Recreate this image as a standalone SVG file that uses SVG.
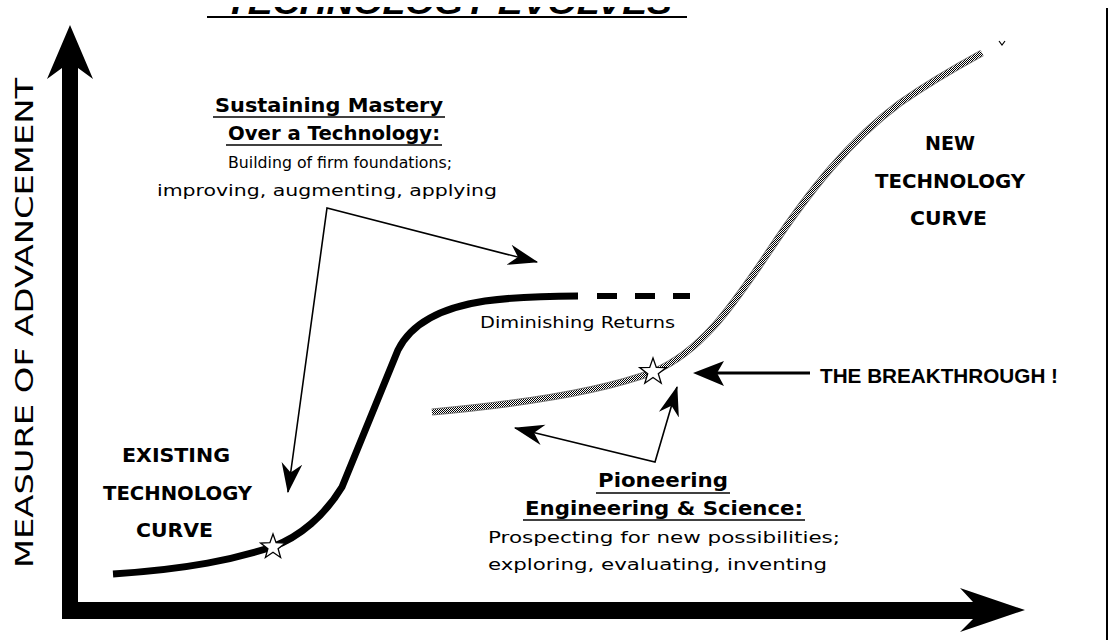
<svg xmlns="http://www.w3.org/2000/svg" width="1114" height="640" viewBox="0 0 1114 640">
<defs>
<style>
.bold{font-family:"Liberation Sans",Arial,sans-serif;font-weight:bold;fill:#000}
.reg{font-family:"DejaVu Sans","Liberation Sans",sans-serif;fill:#000}
.hd{font-family:"DejaVu Sans","Liberation Sans",sans-serif;font-weight:bold;fill:#000}
.lbl{font-family:"DejaVu Sans","Liberation Sans",sans-serif;fill:#000}
.cap{font-family:"DejaVu Sans Condensed","Liberation Sans",sans-serif;font-weight:bold;fill:#000}
.ptr{fill:none;stroke:#000;stroke-width:1.6}
.ul{stroke:#000;stroke-width:1.6}
</style>
<marker id="ah" markerUnits="userSpaceOnUse" markerWidth="30" markerHeight="24" viewBox="0 0 26 20" refX="25" refY="10" orient="auto-start-reverse">
<path d="M0,1 L26,10 L0,19 L8,10 Z" fill="#000"/>
</marker>
<pattern id="chk" width="2" height="2" patternUnits="userSpaceOnUse">
<rect width="2" height="2" fill="#fff"/>
<rect width="1" height="1" fill="#000"/>
<rect x="1" y="1" width="1" height="1" fill="#000"/>
</pattern>
<clipPath id="tclip"><rect x="0" y="7" width="1114" height="20"/></clipPath>
</defs>
<rect width="1114" height="640" fill="#fff"/>

<g id="title">
<text x="225" y="14" class="bold" font-style="italic" font-size="34" textLength="447" lengthAdjust="spacingAndGlyphs" clip-path="url(#tclip)">TECHNOLOGY EVOLVES</text>
<line x1="207" y1="17" x2="687" y2="17" stroke="#000" stroke-width="2"/>
</g>

<line id="border" x1="1107" y1="8" x2="1107" y2="640" stroke="#000" stroke-width="2"/>

<g id="axes">
<polygon points="70,25 93,79 78,68 78,619 62,619 62,68 47,79" fill="#000"/>
<polygon points="62,602 973,602 960,588 1025,610 960,632 973,619 62,619" fill="#000"/>
<text transform="translate(33,568) rotate(-90)" class="lbl" font-size="25" textLength="490" lengthAdjust="spacingAndGlyphs">MEASURE OF ADVANCEMENT</text>
</g>

<g id="existing-curve">
<path d="M113,574 C190,569 235,559 272,547 C300,537 325,515 342,487 L398,350 C412,322 445,307 485,301 C515,297 545,296 578,296" fill="none" stroke="#000" stroke-width="7"/>
<path d="M597,296 H690" fill="none" stroke="#000" stroke-width="6" stroke-dasharray="20,18"/>
<path d="M273,534 L276.1,542.7 L285.4,543 L278.1,548.7 L280.6,557.5 L273,552.3 L265.4,557.5 L267.9,548.7 L260.6,543 L269.9,542.7 Z" fill="#fff" stroke="#000" stroke-width="1.3"/>
<text x="480" y="328" class="lbl" font-size="16" textLength="195" lengthAdjust="spacingAndGlyphs">Diminishing Returns</text>
</g>

<g id="existing-label">
<text x="122" y="462" class="cap" font-size="20" textLength="108" lengthAdjust="spacingAndGlyphs">EXISTING</text>
<text x="103" y="500" class="cap" font-size="20" textLength="149" lengthAdjust="spacingAndGlyphs">TECHNOLOGY</text>
<text x="136" y="537" class="cap" font-size="20" textLength="77" lengthAdjust="spacingAndGlyphs">CURVE</text>
</g>

<g id="new-curve">
<path d="M432,412 C520,404 600,392 653,372 C700,352 730,310 770,250 C810,190 850,140 900,103 C930,82 960,65 982,53" fill="none" stroke="#777" stroke-width="7"/>
<path d="M432,412 C520,404 600,392 653,372 C700,352 730,310 770,250 C810,190 850,140 900,103 C930,82 960,65 982,53" fill="none" stroke="url(#chk)" stroke-width="5"/>
<path d="M999,41 L1002,45 L1005,41" fill="none" stroke="#000" stroke-width="1.2"/>
<path d="M653,358 L656.3,367.4 L666.3,367.6 L658.3,373.7 L661.2,383.2 L653,377.5 L644.8,383.2 L647.7,373.7 L639.7,367.6 L649.7,367.4 Z" fill="#fff" stroke="#000" stroke-width="1.3"/>
</g>

<g id="new-label">
<text x="925" y="150" class="cap" font-size="20" textLength="50" lengthAdjust="spacingAndGlyphs">NEW</text>
<text x="875" y="188" class="cap" font-size="20" textLength="150" lengthAdjust="spacingAndGlyphs">TECHNOLOGY</text>
<text x="910" y="225" class="cap" font-size="20" textLength="77" lengthAdjust="spacingAndGlyphs">CURVE</text>
</g>

<g id="sustaining">
<text x="215" y="112" class="hd" font-size="19" textLength="228" lengthAdjust="spacingAndGlyphs">Sustaining Mastery</text>
<line x1="213" y1="117" x2="445" y2="117" class="ul"/>
<text x="228" y="140" class="hd" font-size="19" textLength="212" lengthAdjust="spacingAndGlyphs">Over a Technology:</text>
<line x1="226" y1="145" x2="442" y2="145" class="ul"/>
<text x="228" y="168" class="reg" font-size="16" textLength="224" lengthAdjust="spacingAndGlyphs">Building of firm foundations;</text>
<text x="157" y="196" class="reg" font-size="16" textLength="340" lengthAdjust="spacingAndGlyphs">improving, augmenting, applying</text>
</g>

<g id="pioneering">
<text x="598" y="487" class="hd" font-size="19" textLength="130" lengthAdjust="spacingAndGlyphs">Pioneering</text>
<line x1="596" y1="493" x2="730" y2="493" class="ul"/>
<text x="525" y="515" class="hd" font-size="19" textLength="278" lengthAdjust="spacingAndGlyphs">Engineering &amp; Science:</text>
<line x1="523" y1="520" x2="805" y2="520" class="ul"/>
<text x="488" y="543" class="reg" font-size="16" textLength="352" lengthAdjust="spacingAndGlyphs">Prospecting for new possibilities;</text>
<text x="488" y="570" class="reg" font-size="16" textLength="339" lengthAdjust="spacingAndGlyphs">exploring, evaluating, inventing</text>
</g>

<g id="breakthrough">
<text x="820" y="383" class="bold" font-size="21" textLength="238" lengthAdjust="spacingAndGlyphs">THE BREAKTHROUGH !</text>
</g>

<g id="connectors">
<path class="ptr" d="M288,492 L327,208 L537,262" marker-start="url(#ah)" marker-end="url(#ah)"/>
<path class="ptr" d="M515,428 L655,462 L677,387" marker-start="url(#ah)" marker-end="url(#ah)"/>
<line x1="810" y1="373" x2="700" y2="373" stroke="#000" stroke-width="3"/>
<polygon points="693,373 724,361 717,373 724,386" fill="#000"/>
</g>
</svg>
